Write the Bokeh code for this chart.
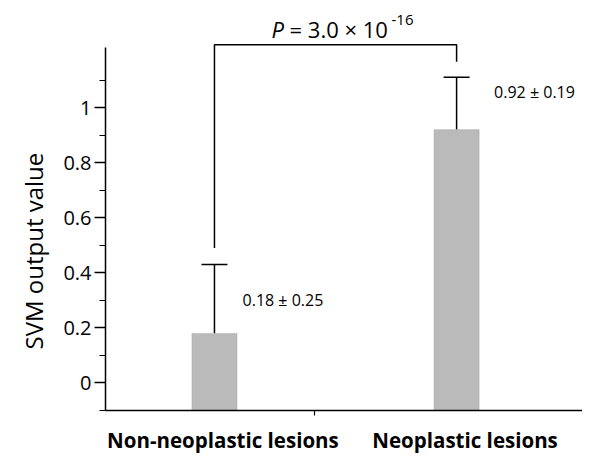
from bokeh.plotting import figure
from bokeh.models import FixedTicker, Whisker, ColumnDataSource, TeeHead, Range1d, Title
from bokeh.core.properties import value
from bokeh.embed import file_html
from bokeh.resources import INLINE

categories = ["Non-neoplastic lesions", "Neoplastic lesions"]
positions = [1, 2]
means = [0.18, 0.92]
sds = [0.25, 0.19]
labels = ["0.18 \u00b1 0.25", "0.92 \u00b1 0.19"]
y_ticks = [0, 0.2, 0.4, 0.6, 0.8, 1]
y_minor = [-0.1, 0.1, 0.3, 0.5, 0.7, 0.9, 1.1]
p_prefix = "= 3.0 \u00d7 10"
p_exp = "-16"
y_title = "SVM output value"

FONT = "Open Sans"
base = -0.1

p = figure(width=582, height=456, output_backend="svg", toolbar_location=None,
           x_range=Range1d(0.55, 2.52), y_range=Range1d(base, 1.36),
           min_border_left=105, min_border_right=0, min_border_top=8, min_border_bottom=40)
p.outline_line_color = None
p.xgrid.visible = False
p.ygrid.visible = False
p.background_fill_color = "white"

upper = [m + s for m, s in zip(means, sds)]
src = ColumnDataSource(dict(x=positions, top=means, upper=upper, label=labels))

p.vbar(x="x", top="top", bottom=base, width=0.186, source=src,
       fill_color="#bababa", line_color="#a8a8a8", line_width=0.5)

w = Whisker(base="x", lower="top", upper="upper", source=src, line_color="black", line_width=1.5,
            upper_head=TeeHead(size=26, line_color="black", line_width=1.5), lower_head=None)
p.add_layout(w)

# bracket
p.line(x=[positions[0], positions[0], positions[1], positions[1]],
       y=[0.49, 1.228, 1.228, 1.167], line_color="black", line_width=1.5)

# value annotations
p.text(x=[positions[0] + 0.116, positions[1] + 0.155], y=[0.30, 1.058], text=labels,
       text_font=value(FONT), text_font_size="16px", text_align="left",
       text_baseline="middle", text_color="black")

# P value
xm = (positions[0] + positions[1]) / 2
py = 1.284
p.text(x=[xm], y=[py], text=["P"], x_offset=-64, text_font=value(FONT),
       text_font_style="italic", text_font_size="22px", text_align="left",
       text_baseline="alphabetic", text_color="black")
p.text(x=[xm], y=[py], text=[p_prefix], x_offset=-46, text_font=value(FONT),
       text_font_size="22px", text_align="left", text_baseline="alphabetic", text_color="black")
p.text(x=[xm], y=[py], text=[p_exp], x_offset=56, y_offset=-9, text_font=value(FONT),
       text_font_size="15px", text_align="left", text_baseline="alphabetic", text_color="black")

# y axis
ya = p.yaxis[0]
ya.bounds = (base, 1.217)
ya.ticker = FixedTicker(ticks=y_ticks, minor_ticks=y_minor)
ya.major_label_overrides = {0: "0", 1: "1"}
ya.major_label_text_font = FONT
ya.major_label_text_font_size = "20px"
ya.major_label_standoff = 3
ya.axis_line_width = 1.5
ya.axis_line_color = "black"
ya.major_tick_out = 11
ya.major_tick_in = 0
ya.minor_tick_out = 6
ya.minor_tick_in = 0
ya.major_tick_line_width = 1.5
ya.minor_tick_line_width = 1.2
ya.major_tick_line_color = "black"
ya.minor_tick_line_color = "black"
ya.major_label_text_color = "black"

ylab = Title(text=y_title, align="left", offset=61, text_font=FONT, text_font_size="24px",
             text_font_style="normal", text_color="black", standoff=22)
p.add_layout(ylab, "left")

# x axis (category labels sit slightly right of bar centres, as in the original)
label_pos = [x + 0.035 for x in positions]
xa = p.xaxis[0]
xa.ticker = FixedTicker(ticks=label_pos, minor_ticks=[1.413])
xa.major_label_overrides = {label_pos[0]: categories[0], label_pos[1]: categories[1]}
xa.major_label_text_font = FONT
xa.major_label_text_font_style = "bold"
xa.major_label_text_font_size = "20.5px"
xa.major_label_text_color = "black"
xa.major_label_standoff = 10
xa.major_tick_out = 0
xa.major_tick_in = 0
xa.minor_tick_out = 5
xa.minor_tick_in = 0
xa.minor_tick_line_width = 1.2
xa.minor_tick_line_color = "black"
xa.axis_line_width = 1.5
xa.axis_line_color = "black"

open("out.html", "w").write(file_html(p, INLINE))
